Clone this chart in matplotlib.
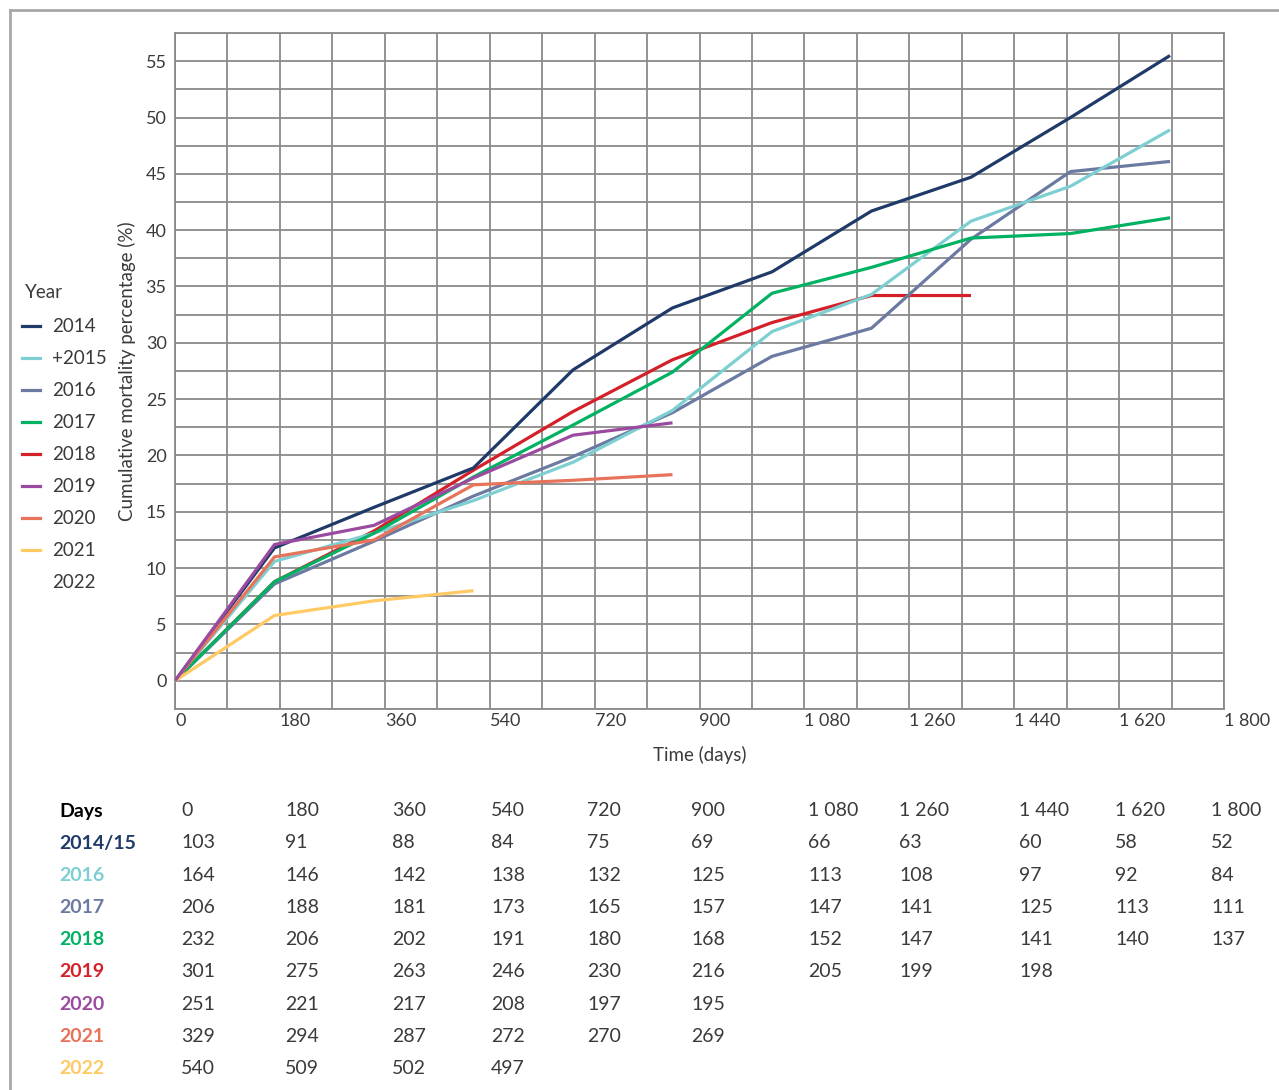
import matplotlib
matplotlib.use('Agg')
import matplotlib.pyplot as plt
from matplotlib.lines import Line2D
import numpy as np

plt.rcParams['font.family'] = ['Lato', 'DejaVu Sans']

# time points (days) and their axis labels
days = [0, 180, 360, 540, 720, 900, 1080, 1260, 1440, 1620, 1800]
day_labels = ['0', '180', '360', '540', '720', '900', '1 080', '1 260', '1 440', '1 620', '1 800']

# cumulative mortality (%)
mort_2014 = [0, 11.8, 15.4, 18.9, 27.6, 33.1, 36.3, 41.7, 44.7, 50.0, 55.5]
mort_2015 = [0, 10.6, 13.1, 16.0, 19.4, 24.0, 31.0, 34.3, 40.8, 43.9, 48.9]
mort_2016 = [0, 8.6, 12.4, 16.4, 19.9, 23.8, 28.8, 31.3, 39.2, 45.2, 46.1]
mort_2017 = [0, 8.8, 13.1, 18.1, 22.7, 27.4, 34.4, 36.7, 39.3, 39.7, 41.1]
mort_2018 = [0, 8.8, 13.3, 18.7, 23.9, 28.5, 31.8, 34.2, 34.2]
mort_2019 = [0, 12.1, 13.8, 18.0, 21.8, 22.9]
mort_2020 = [0, 11.0, 12.5, 17.4, 17.8, 18.3]
mort_2021 = [0, 5.8, 7.1, 8.0]

legend_years = ['2014', '+2015', '2016', '2017', '2018', '2019', '2020', '2021', '2022']
series = [mort_2014, mort_2015, mort_2016, mort_2017, mort_2018, mort_2019, mort_2020, mort_2021]
colors = ['#1f3a68', '#7ecfd2', '#6b7aa1', '#00b261', '#d42129', '#9b4b9f', '#e8735b', '#ffc964']
zorders = [3, 3, 2.5, 3, 2.2, 3.2, 3, 3]

# numbers at risk table
row_labels = ['2014/15', '2016', '2017', '2018', '2019', '2020', '2021', '2022']
risk_2014 = [103, 91, 88, 84, 75, 69, 66, 63, 60, 58, 52]
risk_2016 = [164, 146, 142, 138, 132, 125, 113, 108, 97, 92, 84]
risk_2017 = [206, 188, 181, 173, 165, 157, 147, 141, 125, 113, 111]
risk_2018 = [232, 206, 202, 191, 180, 168, 152, 147, 141, 140, 137]
risk_2019 = [301, 275, 263, 246, 230, 216, 205, 199, 198]
risk_2020 = [251, 221, 217, 208, 197, 195]
risk_2021 = [329, 294, 287, 272, 270, 269]
risk_2022 = [540, 509, 502, 497]
risk_rows = [risk_2014, risk_2016, risk_2017, risk_2018, risk_2019, risk_2020, risk_2021, risk_2022]

W, H = 1279, 1090
fig = plt.figure(figsize=(W / 100, H / 100), dpi=100)


def fx(px):
    return px / W


def fy(py):
    return 1 - py / H


ax = fig.add_axes([fx(175), fy(709), fx(1224) - fx(175), fy(33) - fy(709)])

grid_col = '#8a8a8a'
text_col = '#3a3a3a'

# the plotted points sit a bit tighter than the tick labels in the original
xmax = days[-1] * 1049 / 995
ax.set_xlim(0, xmax)
ax.set_ylim(-2.5, 57.5)

xt = np.linspace(0, xmax, len(days))
ax.set_xticks(xt)
ax.set_xticklabels(day_labels, ha='left')
ax.set_xticks((xt[:-1] + xt[1:]) / 2, minor=True)
ax.set_yticks(np.arange(0, 56, 5))
ax.set_yticks(np.arange(-2.5, 57.6, 5), minor=True)
ax.grid(True, which='both', color=grid_col, linewidth=1.3)
ax.set_axisbelow(True)
ax.tick_params(which='both', length=0)
ax.tick_params(axis='x', pad=3, labelsize=13, labelcolor=text_col)
ax.tick_params(axis='y', pad=6, labelsize=13, labelcolor=text_col)
for s in ax.spines.values():
    s.set_color(grid_col)
    s.set_linewidth(1.3)

for vals, c, z in zip(series, colors, zorders):
    ax.plot(days[:len(vals)], vals, color=c, lw=2.3, solid_capstyle='butt', zorder=z)

ax.set_xlabel('Time (days)', fontsize=13.5, color=text_col, labelpad=12)
ax.set_ylabel('Cumulative mortality percentage (%)', fontsize=13.5, color=text_col, labelpad=7)

# legend on the left
fig.text(fx(25), fy(292), 'Year', fontsize=13.5, color=text_col, va='center', ha='left')
for i, yr in enumerate(legend_years):
    yy = fy(326 + 32 * i)
    if i < len(colors):
        fig.add_artist(Line2D([fx(22), fx(40)], [yy, yy], color=colors[i], lw=2.3,
                              transform=fig.transFigure))
    fig.text(fx(52), yy, yr, fontsize=13.5, color=text_col, va='center', ha='left')

# table of numbers at risk
col_x = [181, 285, 392, 491, 587, 691, 808, 899, 1019, 1115, 1211]
fig.text(fx(59), fy(811), 'Days', fontsize=14, fontweight='bold', color='black', va='center')
for x, lab in zip(col_x, day_labels):
    fig.text(fx(x), fy(811), lab, fontsize=14, color=text_col, va='center')
for r, (lab, vals) in enumerate(zip(row_labels, risk_rows)):
    yy = fy(843 + 32.2 * r)
    fig.text(fx(59), yy, lab, fontsize=14, fontweight='bold', color=colors[r], va='center')
    for x, v in zip(col_x, vals):
        fig.text(fx(x), yy, str(v), fontsize=14, color=text_col, va='center')

# grey frame lines
fig.add_artist(Line2D([fx(10), 1], [fy(10), fy(10)], color='#a8a8a8', lw=2, transform=fig.transFigure))
fig.add_artist(Line2D([fx(10), fx(10)], [fy(10), 0], color='#a8a8a8', lw=2, transform=fig.transFigure))

fig.savefig('out.png', dpi=100)
